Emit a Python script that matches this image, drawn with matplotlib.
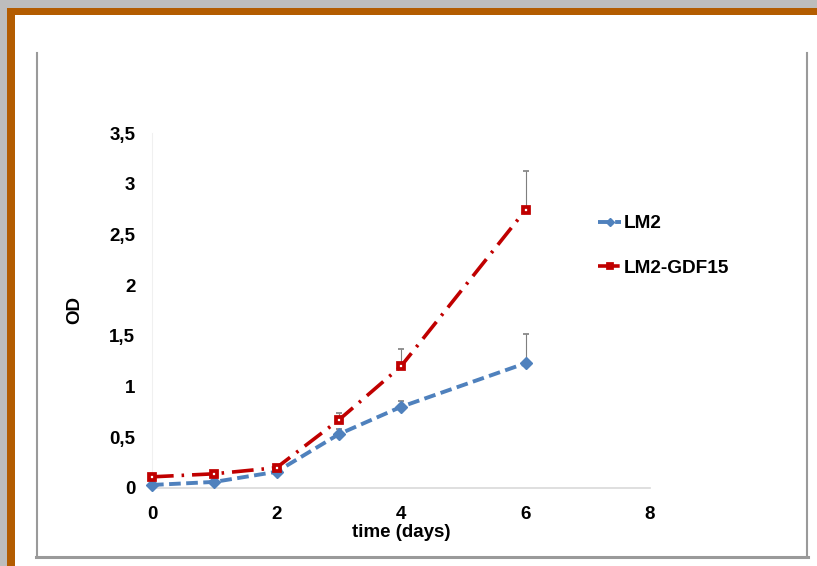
import matplotlib
matplotlib.use("Agg")
import matplotlib.pyplot as plt
from matplotlib.patches import Rectangle
from matplotlib.lines import Line2D
from matplotlib.ticker import FuncFormatter

plt.rcParams['font.family'] = ['Liberation Sans', 'DejaVu Sans']
plt.rcParams['font.weight'] = 'bold'

# growth curves, OD readings per day
days = [0, 1, 2, 3, 4, 6]
lm2 = [0.03, 0.06, 0.16, 0.53, 0.80, 1.23]
lm2_err = [0.0, 0.0, 0.0, 0.05, 0.06, 0.29]
gdf15 = [0.11, 0.14, 0.20, 0.67, 1.20, 2.74]
gdf15_err = [0.0, 0.0, 0.01, 0.07, 0.17, 0.39]

W, H = 817, 566
fig = plt.figure(figsize=(W / 100, H / 100), dpi=100)
fig.patch.set_facecolor('#bdbdbd')


def fx(px):
    return px / W


def fy(py):
    return 1 - py / H


# brown frame and white page
fig.add_artist(Rectangle((fx(7), 0), 1, fy(8), transform=fig.transFigure,
                         facecolor='#b35c00', edgecolor='none', zorder=0))
fig.add_artist(Rectangle((fx(15), 0), 1, fy(15), transform=fig.transFigure,
                         facecolor='white', edgecolor='none', zorder=0))

# chart area border
grey = '#9a9a9a'
fig.add_artist(Line2D([fx(37), fx(37)], [fy(53), fy(556)], color=grey, lw=1.5))
fig.add_artist(Line2D([fx(807), fx(807)], [fy(53), fy(556)], color=grey, lw=1.5))
fig.add_artist(Line2D([fx(36), fx(808)], [fy(556.5), fy(556.5)], color=grey, lw=2.2))

ax = fig.add_axes([fx(152), fy(488), fx(650) - fx(152), fy(133) - fy(488)])
ax.set_facecolor('none')

ax.errorbar(days, lm2, yerr=[[0] * len(lm2_err), lm2_err], fmt='none',
            ecolor='#7f7f7f', elinewidth=0.8, capsize=2, capthick=1.2, zorder=2)
ax.errorbar(days, gdf15, yerr=[[0] * len(gdf15_err), gdf15_err], fmt='none',
            ecolor='#7f7f7f', elinewidth=0.8, capsize=2, capthick=1.2, zorder=2)

ax.plot(days, lm2, color='#4f81bd', lw=2.8, ls=(0, (3, 1.4)), marker='D',
        markersize=6, markeredgecolor='#4f81bd', label='LM2', zorder=3,
        clip_on=False)
ax.plot(days, gdf15, color='#c00000', lw=2.6, ls=(0, (6, 2.2, 0.7, 2.2)), marker='s',
        markersize=4.2, markerfacecolor='white', markeredgecolor='#c00000',
        markeredgewidth=2.7, label='LM2-GDF15', zorder=4, clip_on=False)

ax.set_xlim(0, 8)
ax.set_ylim(0, 3.5)
ax.set_xticks([0, 2, 4, 6, 8])
ax.set_yticks([0, 0.5, 1, 1.5, 2, 2.5, 3, 3.5])
ax.yaxis.set_major_formatter(FuncFormatter(lambda v, p: ('%g' % v).replace('.', ',')))
ax.tick_params(length=0, labelsize=13.5)
ax.tick_params(axis='x', pad=13)
ax.tick_params(axis='y', pad=12)

for s in ['top', 'right']:
    ax.spines[s].set_visible(False)
ax.spines['left'].set_color('#f0f0f0')
ax.spines['bottom'].set_color('#d9d9d9')
ax.spines['bottom'].set_linewidth(1.2)

ax.set_xlabel('time (days)', fontsize=13.5, fontweight='bold', labelpad=1)
ax.set_ylabel('OD', fontsize=13.5, fontweight='bold', labelpad=19)

leg = ax.legend(loc='center left', frameon=False, fontsize=13.7, markerscale=0.75,
                handlelength=1.2, labelspacing=1.45, handletextpad=0.15)
leg.set_bbox_to_anchor((fx(581), fy(246)), transform=fig.transFigure)

fig.savefig('out.png', dpi=100, facecolor=fig.get_facecolor())
